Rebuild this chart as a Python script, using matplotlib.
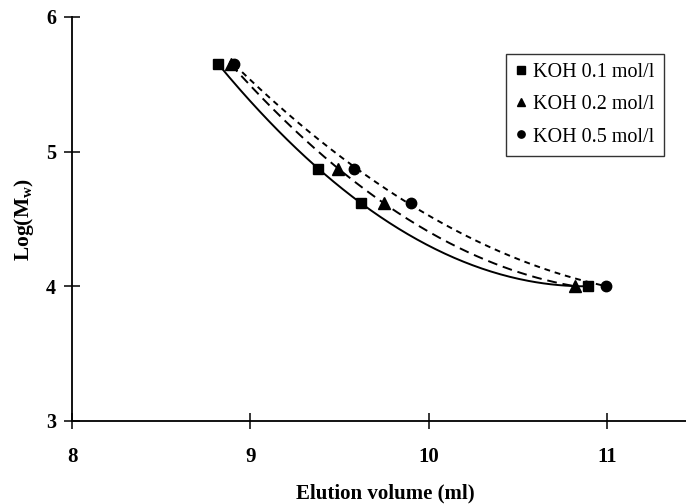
import numpy as np
import matplotlib
matplotlib.use("Agg")
import matplotlib.pyplot as plt
from matplotlib.lines import Line2D

# Data
log_mw = [5.65, 4.87, 4.62, 4.00]
vol_koh_01 = [8.82, 9.38, 9.62, 10.89]
vol_koh_02 = [8.89, 9.49, 9.75, 10.82]
vol_koh_05 = [8.91, 9.58, 9.90, 10.99]
labels = ["KOH 0.1 mol/l", "KOH 0.2 mol/l", "KOH 0.5 mol/l"]
x_ticks = [8, 9, 10, 11]
y_ticks = [3, 4, 5, 6]

plt.rcParams['font.family'] = ['Liberation Serif', 'DejaVu Serif']

fig = plt.figure(figsize=(6.86, 5.04), dpi=100)
ax = fig.add_axes([72/686, 1-421/504, 1-72/686, (421-17)/504])

series = [
    (vol_koh_01, 's', '-', 7.5),
    (vol_koh_02, '^', (0, (5, 3)), 8),
    (vol_koh_05, 'o', (0, (3, 2.5)), 7.5),
]
handles = []
for (xs, mk, ls, ms), lab in zip(series, labels):
    xs = np.array(xs)
    coef = np.polyfit(xs, log_mw, 2)
    xf = np.linspace(xs.min(), xs.max(), 200)
    ax.plot(xf, np.polyval(coef, xf), color='black', linestyle=ls, lw=1.4)
    ax.plot(xs, log_mw, linestyle='none', marker=mk, color='black', ms=ms)
    handles.append(Line2D([], [], linestyle='none', marker=mk, color='black', ms=ms*0.7))

ax.set_xlim(8, 11.44)
ax.set_ylim(3, 6)
ax.set_xticks(x_ticks)
ax.set_yticks(y_ticks)
for s in ['top', 'right']:
    ax.spines[s].set_visible(False)
for s in ['left', 'bottom']:
    ax.spines[s].set_linewidth(1.3)
ax.tick_params(direction='inout', length=11, width=1.1, pad=6)
ax.tick_params(axis='x', pad=13, labelsize=15)
ax.tick_params(axis='y', labelsize=14.5)
for t in ax.get_xticklabels() + ax.get_yticklabels():
    t.set_fontweight('bold')

ax.set_xlabel("Elution volume (ml)", fontsize=15, fontweight='bold')
ax.set_ylabel(r"Log(M$_\mathregular{w}$)", fontsize=15.5, fontweight='bold')
ax.xaxis.label.set_va('center')
ax.xaxis.label.set_ha('center')
ax.yaxis.label.set_va('center')
ax.yaxis.label.set_ha('center')
ax.xaxis.set_label_coords((385-72)/614, (421-493)/404)
ax.yaxis.set_label_coords((24-72)/614, 0.5)

leg = ax.legend(handles, labels, loc='upper left', bbox_to_anchor=(0.7, 1),
                fontsize=14.5, frameon=True, fancybox=False, edgecolor='black',
                handlelength=0.6, handletextpad=0.3, labelspacing=0.65,
                borderpad=0.45, borderaxespad=0)
leg.get_frame().set_linewidth(1.0)
inv = ax.transAxes.inverted()
x0, y0 = inv.transform((506, 504-54))
leg.set_bbox_to_anchor((x0, y0), transform=ax.transAxes)

fig.savefig("out.png", dpi=100)
